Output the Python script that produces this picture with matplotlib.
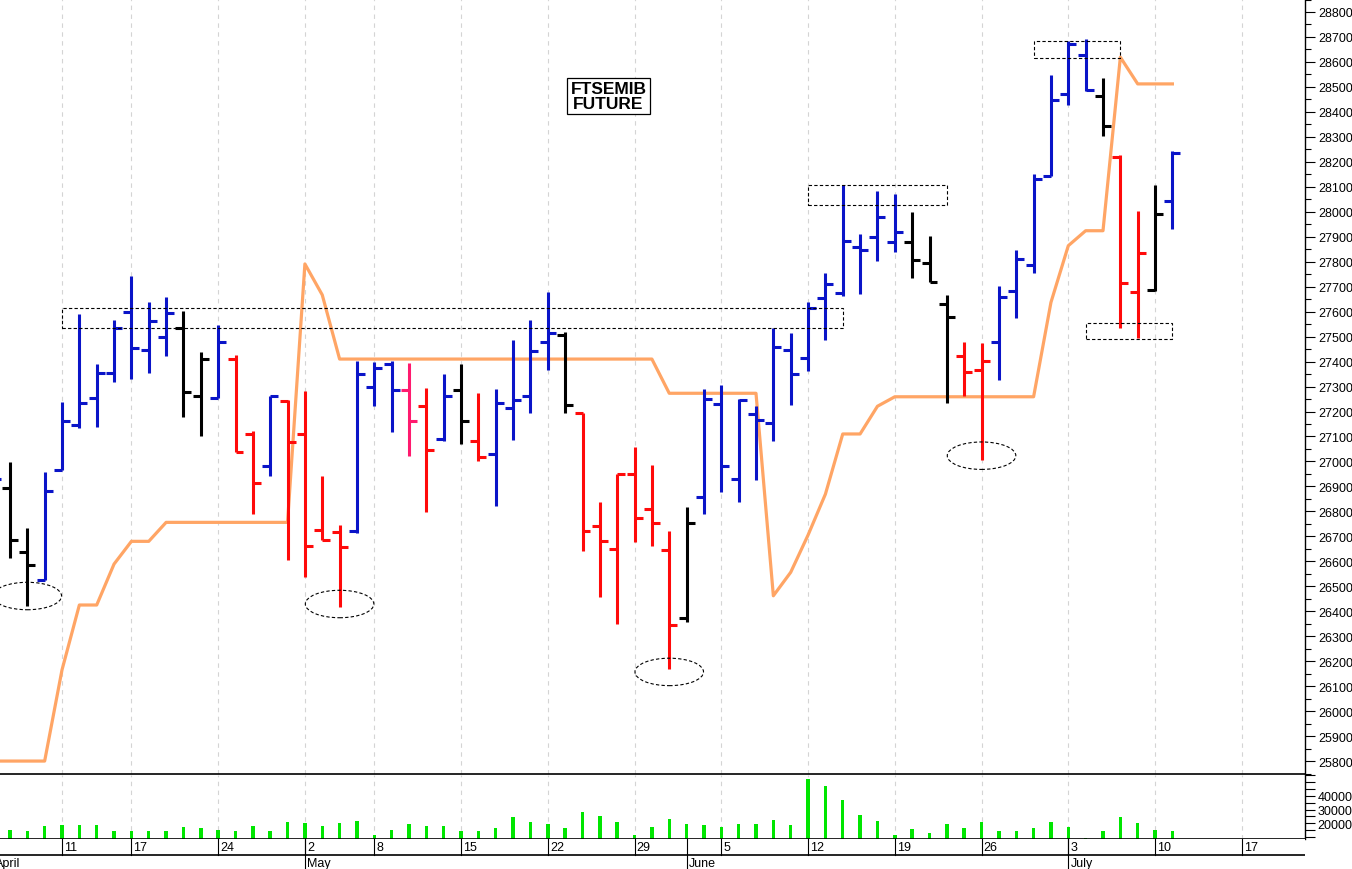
import matplotlib
matplotlib.use("Agg")
import matplotlib.pyplot as plt
from matplotlib.patches import Ellipse, Rectangle
from matplotlib.ticker import MultipleLocator, FuncFormatter
import numpy as np
import pandas as pd

# trading days of the FTSEMIB future, April - July 2023 (Borsa holidays removed)
holidays = ["2023-04-07", "2023-04-10", "2023-05-01"]
days = pd.bdate_range("2023-04-03", "2023-07-21")
days = days[~days.isin(pd.to_datetime(holidays))]

# daily OHLC, 3 Apr -> 11 Jul
opens = [26990, 26894, 26636, 26525, 26967, 27147, 27254, 27353, 27600, 27448,
         27497, 27534, 27262, 27253, 27410, 27110, 26980, 27243, 27110, 26725,
         26716, 26723, 27297, 27390, 27286, 27223, 27090, 27286, 27083, 27030,
         27213, 27263, 27480, 27506, 27194, 26743, 26649, 26950, 26810, 26645,
         26373, 26856, 27230, 26930, 27190, 27154, 27448, 27414, 27653, 27675,
         27860, 27900, 27880, 27880, 27794, 27631, 27421, 27366, 27477, 27681,
         27787, 28142, 28472, 28629, 28465, 28220, 27677, 27687, 28042]
highs = [27050, 26999, 26732, 26956, 27237, 27590, 27389, 27568, 27744, 27640,
         27660, 27601, 27440, 27546, 27427, 27121, 27263, 27246, 27283, 26943,
         26747, 27403, 27397, 27403, 27393, 27293, 27350, 27390, 27274, 27290,
         27486, 27566, 27677, 27520, 27194, 26839, 26950, 27059, 26986, 26720,
         26816, 27290, 27306, 27250, 27223, 27534, 27513, 27637, 27755, 28108,
         27911, 28082, 28071, 27998, 27902, 27668, 27477, 27474, 27704, 27847,
         28151, 28549, 28685, 28692, 28534, 28227, 28004, 28107, 28245]
lows = [26880, 26613, 26422, 26525, 26967, 27134, 27137, 27317, 27330, 27354,
        27421, 27177, 27101, 27253, 27039, 26790, 26943, 26606, 26538, 26687,
        26416, 26713, 27223, 27117, 27023, 26796, 27083, 27070, 27003, 26823,
        27087, 27194, 27366, 27194, 26640, 26458, 26349, 26676, 26663, 26169,
        26356, 26790, 26876, 26839, 26926, 27081, 27227, 27363, 27486, 27664,
        27671, 27804, 27838, 27735, 27717, 27234, 27263, 27007, 27326, 27574,
        27753, 28142, 28428, 28485, 28302, 27533, 27493, 27681, 27931]
closes = [26930, 26685, 26585, 26880, 27161, 27233, 27353, 27533, 27453, 27562,
          27595, 27277, 27410, 27477, 27039, 26914, 27263, 27077, 26663, 26687,
          26656, 27350, 27374, 27286, 27163, 27047, 27263, 27163, 27017, 27234,
          27246, 27444, 27514, 27226, 26723, 26680, 26950, 26773, 26752, 26345,
          26752, 27250, 26983, 27246, 27166, 27457, 27350, 27615, 27711, 27884,
          27847, 27978, 27920, 27808, 27720, 27580, 27359, 27401, 27657, 27811,
          28131, 28448, 28672, 28489, 28342, 27713, 27834, 27991, 28234]
# bar colouring signal: u = up, d = down, n = neutral, w = warning
signal = list("unnu" "uuuuuuu" "nn" "u" "dd" "u" "dddd" "uuu" "w" "d" "u" "n" "d"
              "uuuu" "n" "dddddd" "n" "uuuuuuuuuuuu" "nnn" "dd" "uuuuuu" "n" "dd" "n" "u")

# trailing stop line
stops = [25800, 25800, 25800, 25800, 26165, 26425, 26425, 26589, 26680, 26680,
         26756, 26756, 26756, 26756, 26756, 26756, 26756, 26756, 27791, 27667,
         27410, 27410, 27410, 27410, 27410, 27410, 27410, 27410, 27410, 27410,
         27410, 27410, 27410, 27410, 27410, 27410, 27410, 27410, 27410, 27273,
         27273, 27273, 27273, 27273, 27273, 26462, 26556, 26705, 26869, 27110,
         27110, 27221, 27259, 27259, 27259, 27259, 27259, 27259, 27259, 27259,
         27259, 27637, 27864, 27924, 27924, 28619, 28512, 28512, 28512]

volumes = [15000, 15300, 14590, 17800, 18760, 18760, 18760, 14590, 14590, 14150,
           14590, 17510, 16340, 15320, 14590, 17800, 14590, 20950, 20000, 17800,
           20220, 21460, 11660, 15320, 19270, 17800, 17800, 14150, 14590, 16340,
           24390, 20950, 19490, 16780, 28050, 25120, 20950, 11660, 17510, 23150,
           19490, 18760, 17510, 19490, 19270, 22410, 18760, 52400, 47070, 37260,
           26070, 21680, 11660, 15830, 12690, 19490, 16340, 20730, 14150, 14590,
           16780, 20730, 17510, 9030, 14590, 24390, 20220, 14880, 14150]

# marked resistance zones (start day, end day, low, high) and swing lows
zones = [("2023-04-11", "2023-06-14", 27533, 27613),
         ("2023-06-12", "2023-06-22", 28027, 28108),
         ("2023-06-29", "2023-07-06", 28615, 28683),
         ("2023-07-04", "2023-07-11", 27489, 27553)]
swing_lows = [("2023-04-05", 26461), ("2023-05-04", 26429),
              ("2023-05-31", 26157), ("2023-06-26", 27023)]

colour_map = {"u": "#0a14c8", "d": "#ff0a0a", "n": "#000000", "w": "#ff1a6e"}
label_font = "Liberation Sans"

pos = np.arange(len(days))
n = len(opens)
px = pos[:n]
bar_cols = [colour_map[s] for s in signal]
day_index = {d.strftime("%Y-%m-%d"): i for i, d in enumerate(days)}

week = days.isocalendar().week.values
week_first = [i for i in pos if i == 0 or week[i] != week[i - 1]]
month_first = [i for i in pos if i == 0 or days[i].month != days[i - 1].month]

W, H = 1352, 870
fig = plt.figure(figsize=(W / 100, H / 100), dpi=100)
ax = fig.add_axes([0, (H - 775) / H, 1305 / W, 775 / H])
axv = fig.add_axes([0, (H - 840) / H, 1305 / W, 64 / H])
axd = fig.add_axes([0, 0, 1305 / W, 30 / H])

xlo = 4 - 62 / 17.35
xhi = xlo + 1305 / 17.35
for a in (ax, axv, axd):
    a.set_xlim(xlo, xhi)
    a.set_xticks([])
    for s in ("left", "top"):
        a.spines[s].set_visible(False)
    a.spines["right"].set_linewidth(1.0)
    a.spines["bottom"].set_linewidth(1.2)

# gridlines on week starts
for i in week_first:
    for a in (ax, axv):
        a.axvline(i, color="#d4d4d4", lw=0.8, ls=(0, (4, 4)), zorder=0)

# stop line
ax.plot(px, stops, color="#ffa565", lw=2.3, zorder=2, solid_joinstyle="round")

# OHLC bars
tick = 0.46
ax.vlines(px, lows, highs, colors=bar_cols, lw=2.2, zorder=3, capstyle="butt")
ax.hlines(opens, px - tick, px, colors=bar_cols, lw=2.2, zorder=3, capstyle="butt")
ax.hlines(closes, px, px + tick, colors=bar_cols, lw=2.2, zorder=3, capstyle="butt")

# dashed zones and ellipses
for d0, d1, lo, hi in zones:
    ax.add_patch(Rectangle((day_index[d0], lo), day_index[d1] - day_index[d0], hi - lo,
                           fill=False, ec="black", lw=0.8, ls=(0, (3, 2)), zorder=4))
for d, p in swing_lows:
    ax.add_patch(Ellipse((day_index[d], p), 3.95, 110, fill=False, ec="black",
                         lw=0.8, ls=(0, (3, 2)), zorder=4))

ax.text(35.5, 28464, "FTSEMIB\nFUTURE", ha="center", va="center",
        fontsize=12.5, fontweight="bold", family=label_font, linespacing=0.95,
        bbox=dict(boxstyle="square,pad=0.18", fc="white", ec="black", lw=0.9))

ax.set_ylim(28800 - 762 * 4.005, 28800 + 13 * 4.005)
ax.yaxis.tick_right()
ax.set_yticks(list(range(25800, 28801, 100)))
ax.yaxis.set_minor_locator(MultipleLocator(50))
ax.tick_params(axis="y", which="major", length=7.5, width=0.8, labelsize=9, pad=2)
ax.tick_params(axis="y", which="minor", length=4, width=0.8)

# volume panel
axv.bar(px, volumes, width=0.2, color="#00e600", zorder=2)
axv.set_ylim(20000 - 15.7 * 731.5, 20000 + 48.3 * 731.5)
axv.yaxis.tick_right()
axv.set_yticks(list(range(10000, 55001, 5000)))
axv.yaxis.set_major_formatter(FuncFormatter(
    lambda v, _: "%d" % v if v in (20000, 30000, 40000) else ""))
axv.tick_params(axis="y", length=7, width=0.8, labelsize=9, pad=2)

# date band
axd.set_ylim(0, 1)
axd.set_yticks([])
axd.spines["bottom"].set_visible(False)
axd.spines["right"].set_visible(False)
axd.axhline(14 / 30, color="black", lw=1.2)
for i in week_first:
    axd.plot([i, i], [14 / 30, 1], color="black", lw=0.8, clip_on=False)
    if i > xlo:
        axd.text(i + 0.12, 0.72, str(days[i].day), ha="left", va="center",
                 fontsize=9, family=label_font)
for i in month_first:
    axd.plot([i, i], [0, 1], color="black", lw=0.8, clip_on=False)
    axd.text(i + 0.12, 0.2, days[i].strftime("%B"), ha="left", va="center",
             fontsize=9, family=label_font, clip_on=False)

for a in (ax, axv):
    for lab in a.get_yticklabels():
        lab.set_family(label_font)

fig.savefig("out.png", dpi=100)
